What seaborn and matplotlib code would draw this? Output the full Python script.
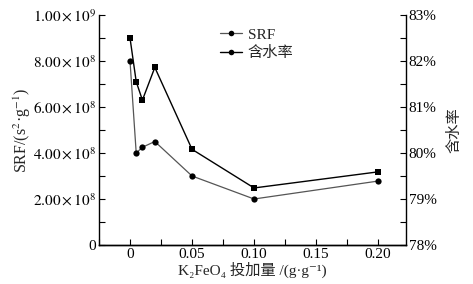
import matplotlib
matplotlib.use("Agg")
import matplotlib.pyplot as plt
import seaborn as sns
import pandas as pd
from matplotlib.ticker import MultipleLocator, FixedLocator
from matplotlib.lines import Line2D

dose = [0, 0.005, 0.01, 0.02, 0.05, 0.10, 0.20]
srf = [8.0e8, 4.0e8, 4.25e8, 4.5e8, 3.0e8, 2.0e8, 2.78e8]
water = [82.5, 81.55, 81.15, 81.86, 80.08, 79.24, 79.59]

left_ticks = [0, 2e8, 4e8, 6e8, 8e8, 1e9]
left_labels = ["0", r"$2.00\times10^{8}$", r"$4.00\times10^{8}$", r"$6.00\times10^{8}$",
               r"$8.00\times10^{8}$", r"$1.00\times10^{9}$"]
right_ticks = [78, 79, 80, 81, 82, 83]
right_labels = ["78%", "79%", "80%", "81%", "82%", "83%"]
x_ticks = [0, 0.05, 0.10, 0.15, 0.20]
x_labels = ["0", "0.05", "0.10", "0.15", "0.20"]

sns.set_style("ticks")
plt.rcParams['font.family'] = ['Liberation Serif', 'Noto Sans CJK SC', 'DejaVu Serif']
plt.rcParams['mathtext.fontset'] = 'stix'
plt.rcParams['font.size'] = 10

df = pd.DataFrame({"dose": dose, "srf": srf, "water": water})

fig = plt.figure(figsize=(4.73, 2.84), dpi=100)
ax = fig.add_axes([99/473, 1-245/284, (406-99)/473, (245-15)/284])
ax2 = ax.twinx()

sns.lineplot(data=df, x="dose", y="srf", ax=ax, color="#555555", lw=0.9,
             marker="o", markersize=4.5, markeredgewidth=0, markerfacecolor="black",
             label="SRF", legend=False)
sns.lineplot(data=df, x="dose", y="water", ax=ax2, color="black", lw=1.0,
             marker="s", markersize=5, markeredgewidth=0, markerfacecolor="black",
             label="含水率", legend=False)

ax.set_xlim(-0.025, 0.2225)
ax.set_ylim(0, 1e9)
ax2.set_ylim(78, 83)

ax.xaxis.set_major_locator(FixedLocator(x_ticks))
ax.set_xticklabels(x_labels)
ax.xaxis.set_minor_locator(MultipleLocator(0.025))
ax.yaxis.set_major_locator(FixedLocator(left_ticks))
ax.set_yticklabels(left_labels)
ax.yaxis.set_minor_locator(MultipleLocator(1e8))
ax2.yaxis.set_major_locator(FixedLocator(right_ticks))
ax2.set_yticklabels(right_labels)
ax2.yaxis.set_minor_locator(MultipleLocator(0.5))

for a in (ax, ax2):
    a.tick_params(which='both', direction='in', width=0.8, colors='black', labelsize=11, pad=2)
    a.tick_params(which='major', length=4)
    a.tick_params(which='minor', length=4)
    a.spines['top'].set_visible(False)
    for s in a.spines.values():
        s.set_linewidth(1.0)
        s.set_color('black')
ax.spines['right'].set_visible(False)
ax2.spines['left'].set_visible(False)

ax.set_xlabel("K₂FeO₄ 投加量 /(g·g⁻¹)", fontsize=11, labelpad=1)
ax.set_ylabel(r"SRF/(s$^2$·g$^{-1}$)", fontsize=11.5, labelpad=0)
ax2.set_ylabel("含水率", fontsize=11, labelpad=8)

h1 = Line2D([], [], color="#555555", lw=0.9, marker="o", markersize=4, markerfacecolor="black", markeredgewidth=0)
h2 = Line2D([], [], color="black", lw=1.0, marker="o", markersize=4, markerfacecolor="black", markeredgewidth=0)
ax.legend([h1, h2], ["SRF", "含水率"], loc='upper left', bbox_to_anchor=(0.36, 0.99),
          frameon=False, fontsize=11, handlelength=1.4, handletextpad=0.4,
          labelspacing=0.3, borderpad=0.2)

fig.savefig("out.png", dpi=100)
